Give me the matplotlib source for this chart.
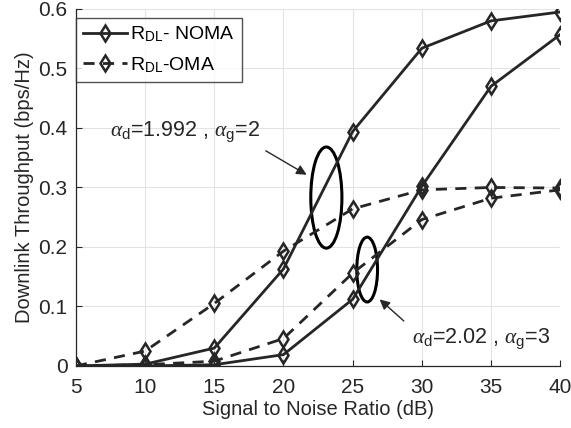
import matplotlib
matplotlib.use("Agg")
import matplotlib.pyplot as plt
from matplotlib.patches import Ellipse

plt.rcParams['font.family'] = ['Liberation Sans', 'DejaVu Sans']
plt.rcParams['mathtext.fontset'] = 'custom'
plt.rcParams['mathtext.rm'] = 'Liberation Sans'
plt.rcParams['mathtext.it'] = 'Liberation Serif:italic'
plt.rcParams['mathtext.bf'] = 'Liberation Sans:bold'

snr = [5, 10, 15, 20, 25, 30, 35, 40]
noma_a2 = [0.0, 0.003, 0.030, 0.163, 0.394, 0.534, 0.580, 0.595]
oma_a2 = [0.0, 0.025, 0.105, 0.193, 0.264, 0.296, 0.300, 0.299]
noma_a3 = [0.0, 0.0, 0.002, 0.019, 0.112, 0.302, 0.470, 0.557]
oma_a3 = [0.0, 0.002, 0.008, 0.046, 0.156, 0.246, 0.282, 0.296]

legend_labels = [r'R$_{\mathrm{DL}}$- NOMA', r'R$_{\mathrm{DL}}$-OMA']
xticks = [5, 10, 15, 20, 25, 30, 35, 40]
yticks = [0, 0.1, 0.2, 0.3, 0.4, 0.5, 0.6]
ytick_labels = ['0', '0.1', '0.2', '0.3', '0.4', '0.5', '0.6']

col = '#262626'
fig = plt.figure(figsize=(5.71, 4.28), dpi=100)
ax = fig.add_axes([0.133, 0.145, 0.848, 0.834])

mk = dict(marker='d', markersize=8, markerfacecolor='none',
          markeredgecolor=col, markeredgewidth=1.8, color=col, linewidth=2)
l1, = ax.plot(snr, noma_a2, linestyle='-', **mk)
l2, = ax.plot(snr, oma_a2, linestyle=(0, (4, 3)), **mk)
ax.plot(snr, noma_a3, linestyle='-', **mk)
ax.plot(snr, oma_a3, linestyle=(0, (4, 3)), **mk)

ax.set_xlim(5, 40)
ax.set_ylim(0, 0.6)
ax.set_xticks(xticks)
ax.set_yticks(yticks)
ax.set_yticklabels(ytick_labels)
ax.tick_params(direction='in', labelsize=15, colors=col, length=4, width=0.8)
ax.tick_params(axis='x', pad=9)
ax.tick_params(axis='y', pad=6)
ax.grid(True, color='#e3e3e3', linewidth=0.8)
ax.set_axisbelow(True)
for s in ['top', 'right']:
    ax.spines[s].set_visible(False)
for s in ['left', 'bottom']:
    ax.spines[s].set_color(col)
    ax.spines[s].set_linewidth(0.9)

ax.set_xlabel('Signal to Noise Ratio (dB)', fontsize=14.5, color=col, labelpad=2)
ax.set_ylabel('Downlink Throughput (bps/Hz)', fontsize=14.5, color=col, labelpad=3)

leg = ax.legend([l1, l2], legend_labels, loc='upper left', bbox_to_anchor=(0.0, 0.975),
                fontsize=14, frameon=True, fancybox=False, edgecolor=col,
                handlelength=2.3, handletextpad=0.15, borderpad=0.35, labelspacing=0.55,
                borderaxespad=0.0)
leg.get_frame().set_linewidth(1.0)

# annotations
ax.add_patch(Ellipse((23.1, 0.283), 2.25, 0.17, fill=False, edgecolor='black', linewidth=2.2))
ax.add_patch(Ellipse((26.05, 0.162), 1.5, 0.109, fill=False, edgecolor='black', linewidth=2.2))
ax.annotate('', xy=(21.85, 0.319), xytext=(18.55, 0.364),
            arrowprops=dict(arrowstyle='-|>', color=col, linewidth=1.0, mutation_scale=15))
ax.annotate('', xy=(26.8, 0.115), xytext=(28.85, 0.0725),
            arrowprops=dict(arrowstyle='-|>', color=col, linewidth=1.0, mutation_scale=15))
ax.text(7.45, 0.394, r'$\alpha_{\mathrm{d}}$=1.992 , $\alpha_{\mathrm{g}}$=2', fontsize=15.5,
        color=col, va='center', ha='left')
ax.text(29.3, 0.045, r'$\alpha_{\mathrm{d}}$=2.02 , $\alpha_{\mathrm{g}}$=3', fontsize=15.5,
        color=col, va='center', ha='left')

fig.savefig('out.png', dpi=100)
